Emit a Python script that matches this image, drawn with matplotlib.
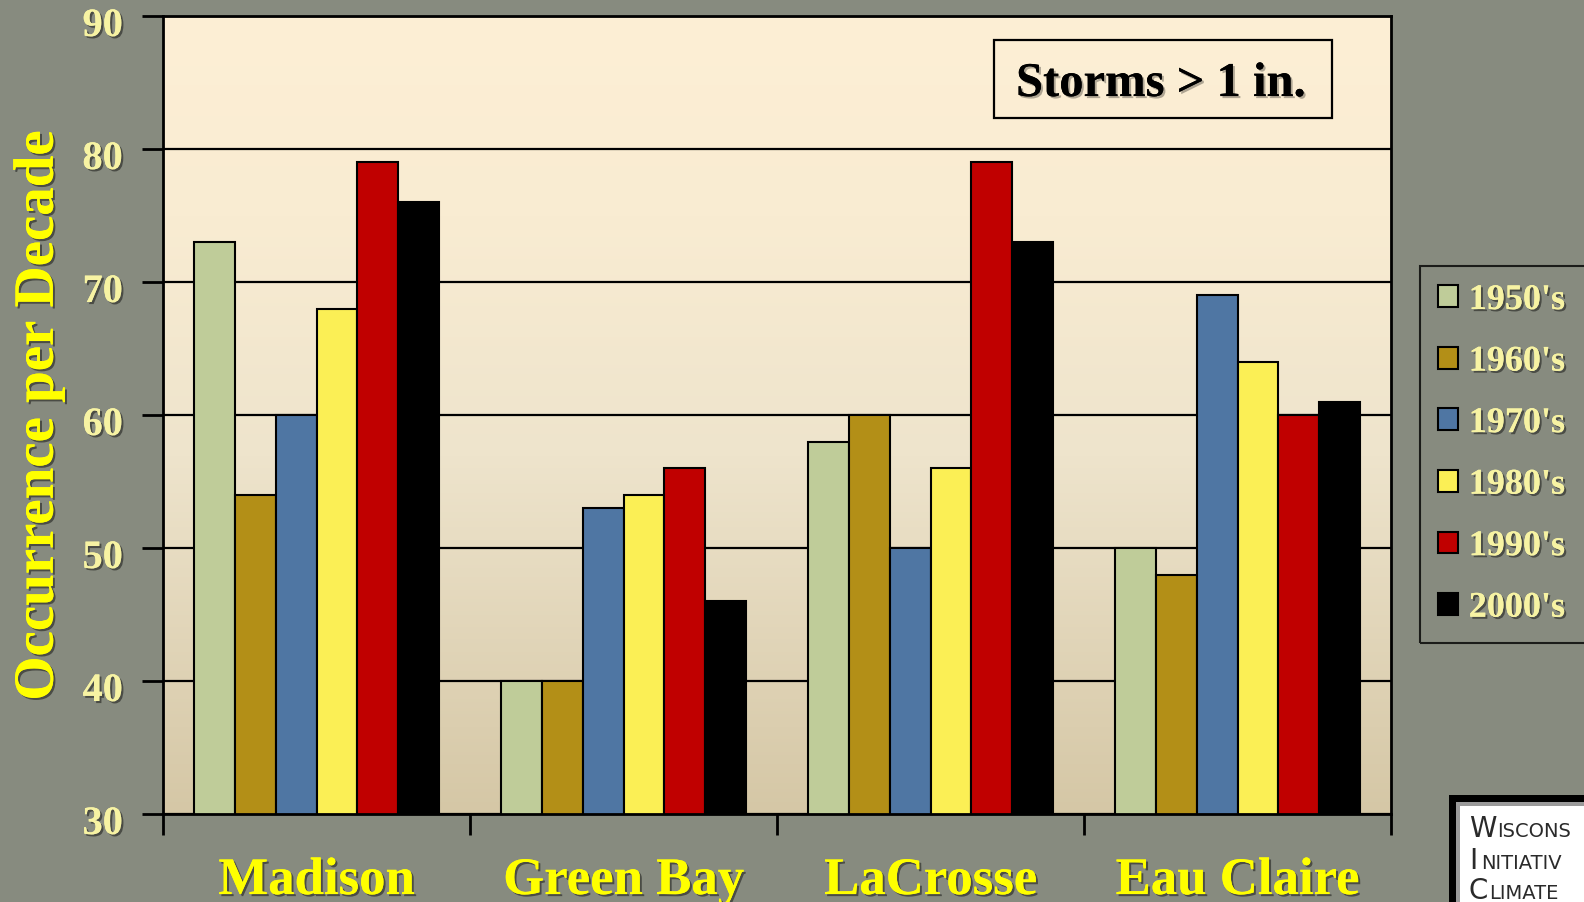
import numpy as np
import matplotlib.pyplot as plt
import matplotlib.patheffects as pe
from matplotlib.patches import Rectangle
from matplotlib.colors import LinearSegmentedColormap
from matplotlib.transforms import ScaledTranslation

cities = ['Madison', 'Green Bay', 'LaCrosse', 'Eau Claire']
decades = ["1950's", "1960's", "1970's", "1980's", "1990's", "2000's"]
counts_1950s = [73, 40, 58, 50]
counts_1960s = [54, 40, 60, 48]
counts_1970s = [60, 53, 50, 69]
counts_1980s = [68, 54, 56, 64]
counts_1990s = [79, 56, 79, 60]
counts_2000s = [76, 46, 73, 61]
yticks = [30, 40, 50, 60, 70, 80, 90]

series = [counts_1950s, counts_1960s, counts_1970s, counts_1980s, counts_1990s, counts_2000s]
colors = ['#bfcc99', '#b38f17', '#4f76a3', '#fbef55', '#c00000', '#000000']

BG = '#878b7f'
PALE = '#f7f3a3'
YELLOW = '#ffff00'
W, H = 1584, 903

plt.rcParams['font.family'] = ['Liberation Serif', 'DejaVu Serif']
plt.rcParams['font.weight'] = 'bold'

shadow = [pe.withSimplePatchShadow(offset=(1.5, -1.5), shadow_rgbFace='black', alpha=0.45), pe.Normal()]

fig = plt.figure(figsize=(W / 100, H / 100), dpi=100, facecolor=BG)
ax = fig.add_axes([163 / W, (H - 815) / H, (1391 - 163) / W, (815 - 17) / H])

# background gradient of the plot area
cmap = LinearSegmentedColormap.from_list('bg', [(0, '#d5c7a6'), (0.45, '#eee4cc'), (0.75, '#f9ecd2'), (1, '#fdefd5')])
grad = np.linspace(0, 1, 256).reshape(-1, 1)
ax.imshow(grad, extent=(-0.5, 3.5, 30, 90), origin='lower', aspect='auto', cmap=cmap, zorder=0)

x = np.arange(len(cities))
n = len(series)
bw = 0.8 / n
bars = []
for i, (vals, c) in enumerate(zip(series, colors)):
    b = ax.bar(x + (i - (n - 1) / 2) * bw, vals, bw, color=c, edgecolor='black', linewidth=1.5, zorder=2)
    bars.append(b)

ax.set_xlim(-0.5, 3.5)
ax.set_ylim(30, 90)
ax.set_yticks(yticks)
ax.yaxis.grid(True, color='black', linewidth=1.6)
ax.set_axisbelow(True)
for g in ax.get_ygridlines():
    g.set_zorder(1)

ax.set_xticks(np.arange(len(cities) + 1) - 0.5)
ax.set_xticklabels([])
ax.set_xticks(x, minor=True)
ax.set_xticklabels(cities, minor=True)
ax.tick_params(axis='x', which='major', length=15, width=2, color='black')
ax.tick_params(axis='x', which='minor', length=0, pad=31, labelsize=38, labelcolor=YELLOW)
ax.tick_params(axis='y', length=15, width=2, color='black', pad=14, labelsize=29, labelcolor=PALE)
for s in ax.spines.values():
    s.set_linewidth(2)
    s.set_color('black')

for lab in ax.get_yticklabels():
    lab.set_transform(lab.get_transform() + ScaledTranslation(0, -0.06, fig.dpi_scale_trans))
    lab.set_path_effects(shadow)
for lab in ax.get_xticklabels(minor=True):
    lab.set_path_effects(shadow)

ax.set_ylabel('Occurrence per Decade', fontsize=41, fontweight='bold', color=YELLOW)
ax.yaxis.set_label_coords(-0.080, 0.5)
ax.yaxis.label.set_path_effects(shadow)

# title box
ax.add_patch(Rectangle((0.6764, 0.8722), 0.2755, 0.0977, transform=ax.transAxes,
                       facecolor='none', edgecolor='black', linewidth=1.6, zorder=3))
ax.text(0.8126, 0.8997, 'Storms > 1 in.', transform=ax.transAxes, ha='center', va='baseline',
        fontsize=35, color='black', zorder=4,
        path_effects=[pe.withSimplePatchShadow(offset=(1.5, -1.5), alpha=0.3), pe.Normal()])

# legend
leg = fig.legend([b[0] for b in bars], decades, loc='upper left',
                 bbox_to_anchor=(1420 / W, (H - 633) / H, 0.3, (633 - 267) / H), mode='expand',
                 borderaxespad=0, prop={'size': 26, 'weight': 'bold'}, labelcolor=PALE,
                 handlelength=0.55, handleheight=0.55, handletextpad=0.3,
                 labelspacing=0.79, borderpad=0.5, fancybox=False)
leg.get_frame().set_facecolor('none')
leg.get_frame().set_edgecolor('black')
leg.get_frame().set_linewidth(1.5)
for t in leg.get_texts():
    t.set_path_effects(shadow)

# logo box in the corner
def fx(px):
    return px / W

def fy(py):
    return (H - py) / H

fig.patches.append(Rectangle((fx(1449), 0), fx(200), fy(796), transform=fig.transFigure,
                             facecolor='black', edgecolor='none', zorder=5))
fig.patches.append(Rectangle((fx(1456), 0), fx(200), fy(803), transform=fig.transFigure,
                             facecolor='#9a9a9a', edgecolor='none', zorder=5))
fig.patches.append(Rectangle((fx(1460), 0), fx(200), fy(807), transform=fig.transFigure,
                             facecolor='white', edgecolor='none', zorder=5))
logo_lines = [('W', 'ISCONS', 837, 1497), ('I', 'NITIATIV', 869, 1481), ('C', 'LIMATE', 899, 1489)]
for big, small, base, xs in logo_lines:
    fig.text(fx(1469), fy(base), big, fontsize=20, family='DejaVu Sans', weight='normal',
             color='#2a2a2a', va='baseline', zorder=6)
    fig.text(fx(xs), fy(base), small, fontsize=14, family='DejaVu Sans', weight='normal',
             color='#2a2a2a', va='baseline', zorder=6)

fig.savefig('out.png', dpi=100, facecolor=BG)
